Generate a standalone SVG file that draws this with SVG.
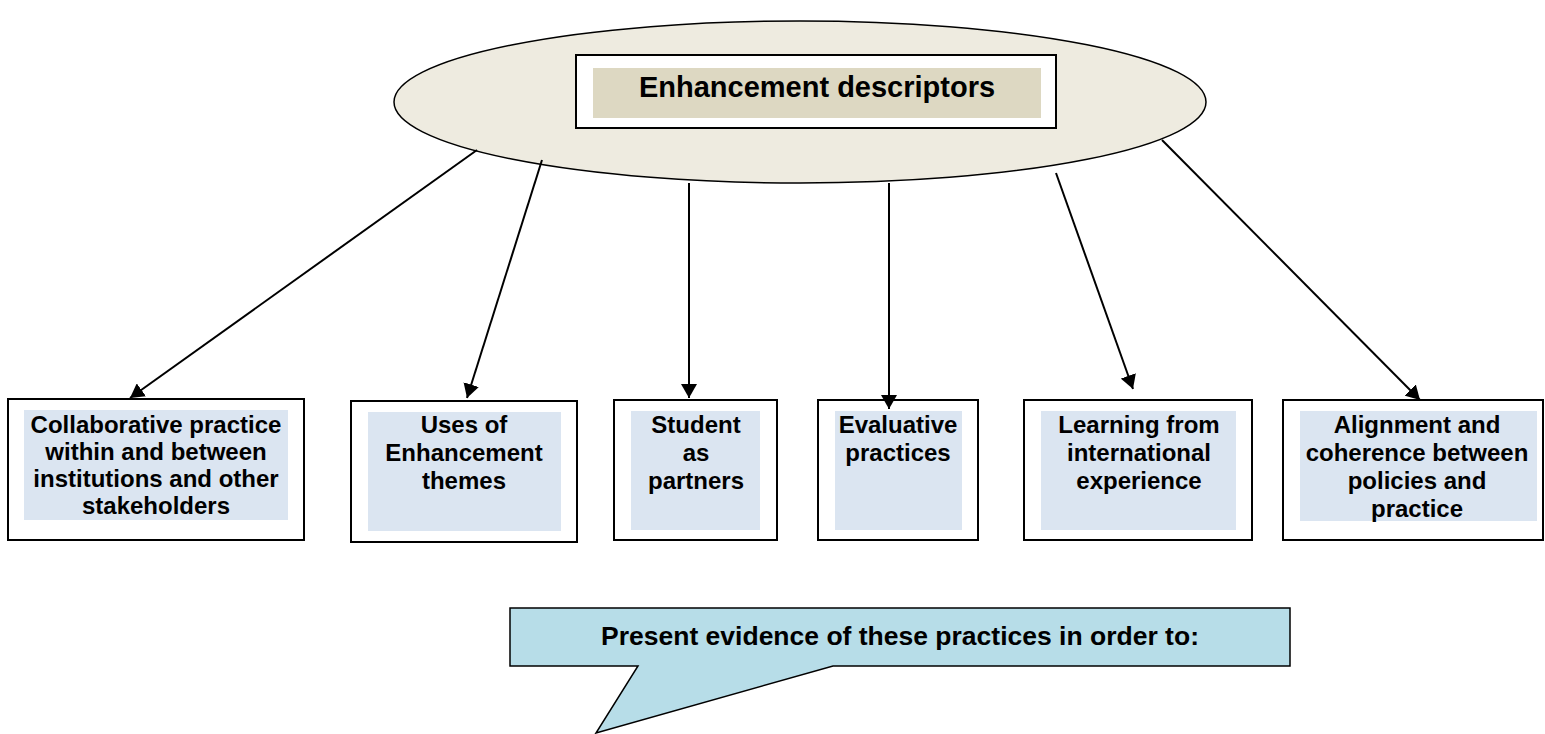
<svg xmlns="http://www.w3.org/2000/svg" width="1545" height="734" viewBox="0 0 1545 734">
<defs>
<marker id="ah" viewBox="0 0 14 16" refX="14" refY="8" markerWidth="14" markerHeight="16" markerUnits="userSpaceOnUse" orient="auto">
<path d="M0,0 L14,8 L0,16 Z" fill="#000"/>
</marker>
</defs>
<style>
text{font-family:"Liberation Sans",Arial,sans-serif;font-weight:bold;fill:#000;text-anchor:middle}
.bt{font-size:24px}
.outer{fill:#fff;stroke:#000;stroke-width:2}
.inner{fill:#dbe5f1}
.conn line{stroke:#000;stroke-width:2;marker-end:url(#ah)}
</style>
<rect width="1545" height="734" fill="#fff"/>
<g id="top">
<ellipse cx="800" cy="102" rx="406" ry="81" fill="#eeebe0" stroke="#000" stroke-width="1.5"/>
<rect x="576" y="55" width="480" height="73" fill="#fff" stroke="#000" stroke-width="2"/>
<rect x="593" y="68" width="448" height="50" fill="#ddd8c2"/>
<text x="817" y="97" font-size="29">Enhancement descriptors</text>
</g>
<g id="n1">
<rect class="outer" x="8" y="399" width="296" height="141"/>
<rect class="inner" x="24" y="410" width="264" height="110"/>
<text class="bt" x="156" y="433">Collaborative practice</text>
<text class="bt" x="156" y="460">within and between</text>
<text class="bt" x="156" y="487">institutions and other</text>
<text class="bt" x="156" y="514">stakeholders</text>
</g>
<g id="n2">
<rect class="outer" x="351" y="401" width="226" height="141"/>
<rect class="inner" x="368" y="412" width="193" height="119"/>
<text class="bt" x="464" y="433">Uses of</text>
<text class="bt" x="464" y="461">Enhancement</text>
<text class="bt" x="464" y="489">themes</text>
</g>
<g id="n3">
<rect class="outer" x="614" y="400" width="163" height="140"/>
<rect class="inner" x="631" y="411" width="129" height="119"/>
<text class="bt" x="696" y="433">Student</text>
<text class="bt" x="696" y="461">as</text>
<text class="bt" x="696" y="489">partners</text>
</g>
<g id="n4">
<rect class="outer" x="818" y="400" width="160" height="140"/>
<rect class="inner" x="835" y="411" width="127" height="119"/>
<text class="bt" x="898" y="433">Evaluative</text>
<text class="bt" x="898" y="461">practices</text>
</g>
<g id="n5">
<rect class="outer" x="1024" y="400" width="228" height="140"/>
<rect class="inner" x="1041" y="411" width="195" height="119"/>
<text class="bt" x="1139" y="433">Learning from</text>
<text class="bt" x="1139" y="461">international</text>
<text class="bt" x="1139" y="489">experience</text>
</g>
<g id="n6">
<rect class="outer" x="1283" y="400" width="260" height="140"/>
<rect class="inner" x="1300" y="411" width="237" height="110"/>
<text class="bt" x="1417" y="433">Alignment and</text>
<text class="bt" x="1417" y="461">coherence between</text>
<text class="bt" x="1417" y="489">policies and</text>
<text class="bt" x="1417" y="517">practice</text>
</g>
<g class="conn">
<line x1="477" y1="150" x2="130" y2="398"/>
<line x1="542" y1="160" x2="467" y2="398"/>
<line x1="689" y1="183" x2="689" y2="398"/>
<line x1="889" y1="183" x2="889" y2="409"/>
<line x1="1056" y1="173" x2="1133" y2="389"/>
<line x1="1162" y1="140" x2="1420" y2="400"/>
</g>
<g id="callout">
<path d="M510,608 H1290 V666 H833 L596,733 L638,666 H510 Z" fill="#b7dde8" stroke="#000" stroke-width="1.5"/>
<text x="900" y="645" font-size="26.5">Present evidence of these practices in order to:</text>
</g>
</svg>
